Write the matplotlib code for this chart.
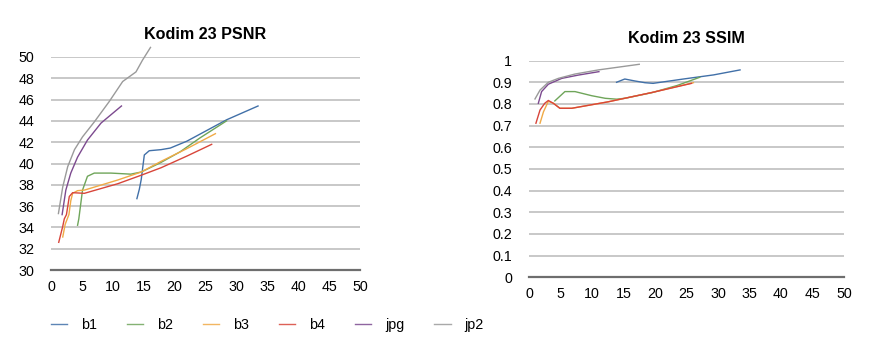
import matplotlib
matplotlib.use("Agg")
import matplotlib.pyplot as plt
from matplotlib.lines import Line2D

plt.rcParams['font.family'] = ['Liberation Sans', 'DejaVu Sans']

series_names = ["b1", "b2", "b3", "b4", "jpg", "jp2"]
colors = ["#4170a8", "#6fa55a", "#f0aa46", "#d8453a", "#7c4a8f", "#9a9a9a"]

# PSNR chart data
psnr_b1_x = [13.9, 14.3, 14.6, 15.1, 15.9, 17.8, 19.3, 22.0, 25.2, 28.4, 33.5]
psnr_b1_y = [36.7, 37.6, 38.5, 40.8, 41.2, 41.3, 41.45, 42.1, 43.1, 44.1, 45.4]
psnr_b2_x = [4.3, 4.5, 5.1, 5.9, 7.0, 9.7, 12.9, 14.6, 17.8, 20.9, 24.1, 28.4]
psnr_b2_y = [34.2, 34.8, 37.5, 38.8, 39.1, 39.1, 39.0, 39.2, 40.1, 41.1, 42.4, 44.0]
psnr_b3_x = [1.9, 2.3, 2.9, 3.2, 3.5, 4.3, 5.4, 10.8, 14.6, 17.8, 22.0, 26.6]
psnr_b3_y = [33.1, 34.3, 35.2, 36.5, 37.2, 37.45, 37.5, 38.45, 39.2, 40.2, 41.4, 42.8]
psnr_b4_x = [1.25, 1.9, 2.15, 2.5, 2.96, 3.5, 5.4, 10.8, 14.6, 17.8, 22.0, 26.0]
psnr_b4_y = [32.6, 34.1, 34.8, 35.2, 36.9, 37.26, 37.2, 38.1, 38.9, 39.6, 40.7, 41.8]
psnr_jpg_x = [1.8, 2.4, 3.2, 4.3, 5.9, 8.1, 11.4]
psnr_jpg_y = [35.2, 37.5, 39.1, 40.6, 42.2, 43.8, 45.4]
psnr_jp2_x = [1.2, 1.9, 2.7, 3.8, 5.1, 7.0, 9.4, 11.6, 13.75, 14.8, 16.1]
psnr_jp2_y = [35.3, 37.8, 39.7, 41.3, 42.5, 43.9, 45.8, 47.7, 48.6, 49.7, 50.9]

# SSIM chart data
ssim_b1_x = [13.9, 15.2, 16.8, 18.4, 19.7, 24.5, 29.3, 33.5]
ssim_b1_y = [0.900, 0.915, 0.906, 0.898, 0.895, 0.915, 0.934, 0.957]
ssim_b2_x = [4.1, 5.7, 7.3, 9.95, 12.1, 13.9, 15.2, 19.5, 23.5, 27.1]
ssim_b2_y = [0.814, 0.857, 0.857, 0.838, 0.826, 0.822, 0.826, 0.852, 0.885, 0.923]
ssim_b3_x = [1.75, 2.3, 3.07, 3.9, 4.9, 6.8, 12.6, 19.7, 26.1]
ssim_b3_y = [0.711, 0.764, 0.812, 0.803, 0.780, 0.780, 0.810, 0.854, 0.898]
ssim_b4_x = [1.1, 1.75, 2.5, 3.07, 3.86, 4.9, 6.8, 12.6, 19.7, 25.8]
ssim_b4_y = [0.711, 0.772, 0.803, 0.816, 0.803, 0.780, 0.780, 0.810, 0.854, 0.895]
ssim_jpg_x = [1.48, 2.0, 3.07, 5.2, 7.8, 11.1]
ssim_jpg_y = [0.803, 0.857, 0.891, 0.918, 0.933, 0.949]
ssim_jp2_x = [0.95, 1.75, 3.07, 4.66, 7.3, 11.0, 17.5]
ssim_jp2_y = [0.823, 0.864, 0.900, 0.918, 0.938, 0.957, 0.983]

x_ticks = [0, 5, 10, 15, 20, 25, 30, 35, 40, 45, 50]
psnr_ticks = [30, 32, 34, 36, 38, 40, 42, 44, 46, 48, 50]
ssim_ticks = [0, 0.1, 0.2, 0.3, 0.4, 0.5, 0.6, 0.7, 0.8, 0.9, 1]
ssim_tick_labels = ["0", "0.1", "0.2", "0.3", "0.4", "0.5", "0.6", "0.7", "0.8", "0.9", "1"]

psnr_series = [(psnr_b1_x, psnr_b1_y), (psnr_b2_x, psnr_b2_y), (psnr_b3_x, psnr_b3_y),
               (psnr_b4_x, psnr_b4_y), (psnr_jpg_x, psnr_jpg_y), (psnr_jp2_x, psnr_jp2_y)]
ssim_series = [(ssim_b1_x, ssim_b1_y), (ssim_b2_x, ssim_b2_y), (ssim_b3_x, ssim_b3_y),
               (ssim_b4_x, ssim_b4_y), (ssim_jpg_x, ssim_jpg_y), (ssim_jp2_x, ssim_jp2_y)]

W, H = 891, 356
fig = plt.figure(figsize=(W / 100, H / 100), dpi=100)

ax1 = fig.add_axes([51 / W, 1 - 270 / H, (360 - 51) / W, (270 - 57) / H])
ax2 = fig.add_axes([529 / W, 1 - 277.3 / H, (844 - 529) / W, 216.7 / H])


def style(ax, yticks, ylabels, ylim, title):
    ax.set_xlim(0, 50)
    ax.set_ylim(*ylim)
    ax.set_xticks(x_ticks)
    ax.set_xticklabels([str(t) for t in x_ticks])
    ax.set_yticks(yticks)
    ax.set_yticklabels(ylabels)
    for s in ["top", "right", "left"]:
        ax.spines[s].set_visible(False)
    ax.spines["bottom"].set_color("#6e6e6e")
    ax.spines["bottom"].set_linewidth(1.6)
    ax.spines["bottom"].set_zorder(5)
    ax.tick_params(axis="both", length=0, labelsize=10.3, colors="black")
    ax.tick_params(axis="y", pad=12)
    ax.tick_params(axis="x", pad=7)
    ax.grid(axis="y", color="#c4c4c4", linewidth=1.3)
    ax.set_axisbelow(True)
    ax.set_title(title, fontsize=11.6, fontweight="bold", y=1.045)


style(ax1, psnr_ticks, [str(t) for t in psnr_ticks], (30, 50), "Kodim 23 PSNR")
style(ax2, ssim_ticks, ssim_tick_labels, (0, 1), "Kodim 23 SSIM")

for (xs, ys), c in zip(psnr_series, colors):
    ax1.plot(xs, ys, color=c, linewidth=1.0, clip_on=False, solid_joinstyle="round")
for (xs, ys), c in zip(ssim_series, colors):
    ax2.plot(xs, ys, color=c, linewidth=1.0, clip_on=False, solid_joinstyle="round")

handles = [Line2D([0], [0], color=c, linewidth=1.0, alpha=0.85) for c in colors]
fig.legend(handles, series_names, loc="center", bbox_to_anchor=(267 / W, 1 - 325 / H),
           ncol=6, frameon=False, fontsize=10.3, handlelength=1.15, handletextpad=0.95,
           columnspacing=2.1)

fig.savefig("out.png", dpi=100, facecolor="white")
